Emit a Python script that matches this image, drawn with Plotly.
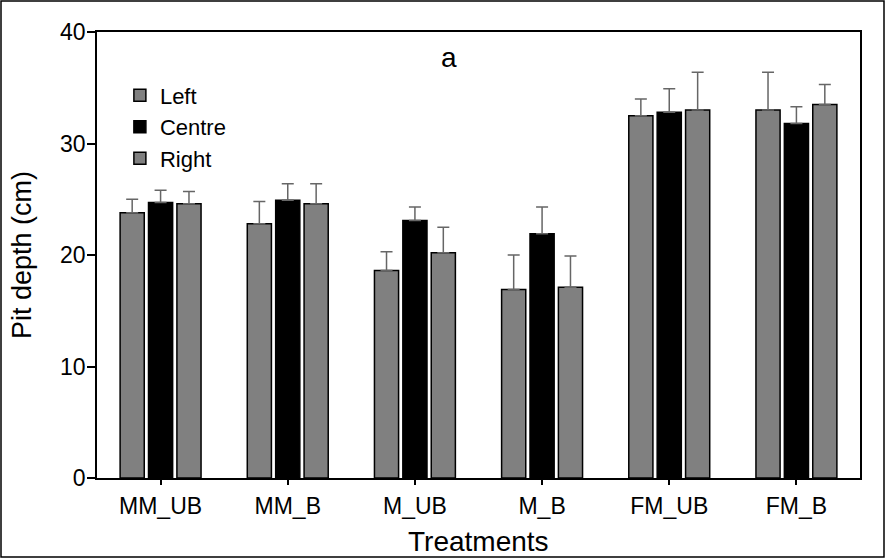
import plotly.graph_objects as go

categories = ["MM_UB", "MM_B", "M_UB", "M_B", "FM_UB", "FM_B"]
left = [23.8, 22.8, 18.6, 16.9, 32.5, 33.0]
left_err = [1.2, 2.0, 1.7, 3.1, 1.5, 3.4]
centre = [24.7, 24.9, 23.1, 21.9, 32.8, 31.8]
centre_err = [1.1, 1.5, 1.2, 2.4, 2.1, 1.5]
right = [24.6, 24.6, 20.2, 17.1, 33.0, 33.5]
right_err = [1.1, 1.8, 2.3, 2.8, 3.4, 1.8]

FONT = "Arial, Liberation Sans, sans-serif"
W, H = 885, 558
ML, MR, MT, MB = 97, 25, 32, 80

fig = go.Figure()
series = [("Left", left, left_err, "#808080"),
          ("Centre", centre, centre_err, "#000000"),
          ("Right", right, right_err, "#808080")]
for name, vals, errs, col in series:
    fig.add_trace(go.Bar(
        name=name, x=categories, y=vals, legendgroup=name,
        marker=dict(color=col, line=dict(color="#000000", width=1.5)),
        error_y=dict(type="data", array=errs, arrayminus=[0]*len(errs),
                     symmetric=False, color="#666666", thickness=1.5, width=6),
    ))

pw = W - ML - MR
ph = H - MT - MB
fig.add_shape(type="rect", xref="paper", yref="paper",
              x0=(-ML + 1) / pw, x1=(pw + MR - 1) / pw,
              y0=(-MB + 1) / ph, y1=(ph + MT - 1) / ph,
              line=dict(color="#000000", width=1.5), layer="below")

fig.add_annotation(text="a", x=0.461, y=0.942, xref="paper", yref="paper",
                   xanchor="center", yanchor="middle",
                   showarrow=False, font=dict(size=28, color="#000000", family=FONT))
# axis titles
fig.add_annotation(text="Treatments", x=0.5, y=(-541 + (H - MB)) / ph,
                   xref="paper", yref="paper", xanchor="center", yanchor="middle",
                   showarrow=False, font=dict(size=28, color="#000000", family=FONT))
fig.add_annotation(text="Pit depth (cm)", x=(22 - ML) / pw, y=0.5, textangle=-90,
                   xref="paper", yref="paper", xanchor="center", yanchor="middle",
                   showarrow=False, font=dict(size=27, color="#000000", family=FONT))

fig.update_layout(
    width=W, height=H,
    margin=dict(l=ML, r=MR, t=MT, b=MB),
    paper_bgcolor="white", plot_bgcolor="white",
    barmode="group", bargap=0.33, bargroupgap=0.15,
    font=dict(family=FONT, size=21, color="#000000"),
    legend=dict(x=0.03, y=0.905, xanchor="left", yanchor="top",
                bgcolor="rgba(0,0,0,0)", font=dict(size=22, family=FONT),
                traceorder="grouped", tracegroupgap=0, itemwidth=30),
    showlegend=True,
)
fig.update_xaxes(
    showline=True, linecolor="#000000", linewidth=1.5, mirror=True,
    ticks="outside", ticklen=5, tickcolor="#000000", tickwidth=1.5,
    tickfont=dict(size=23, family=FONT), ticklabelstandoff=2, automargin=False,
    showgrid=False,
)
fig.update_yaxes(
    range=[0, 40], tickvals=[0, 10, 20, 30, 40],
    showline=True, linecolor="#000000", linewidth=1.5, mirror=True,
    ticks="outside", ticklen=8, tickcolor="#000000", tickwidth=1.5,
    tickfont=dict(size=23, family=FONT), ticklabelstandoff=-3, automargin=False,
    showgrid=False, zeroline=False,
)

fig.write_html("out.html")
